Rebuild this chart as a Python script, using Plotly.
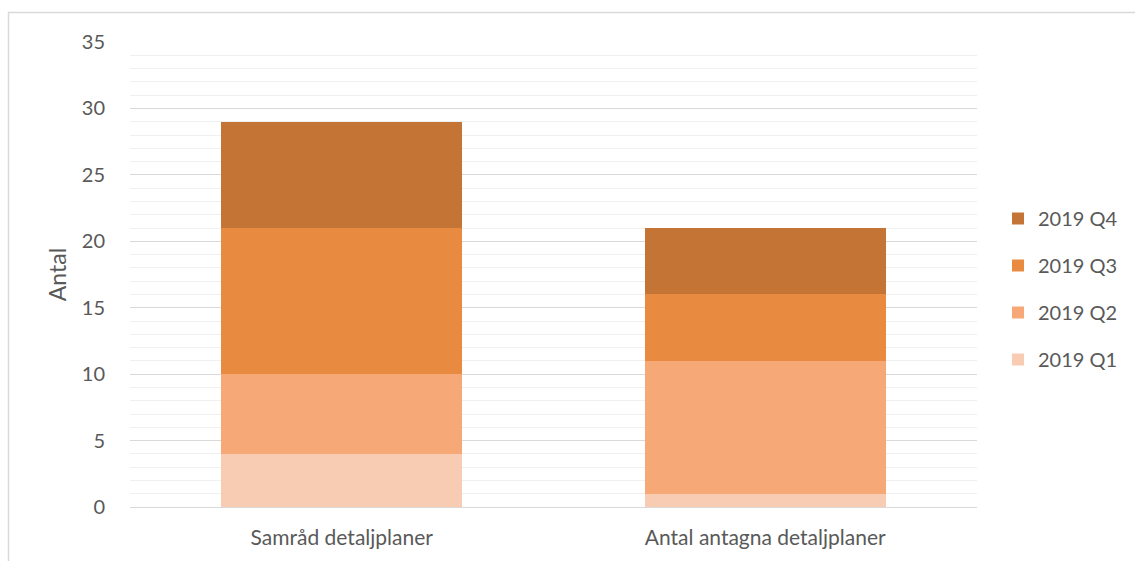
import plotly.graph_objects as go

categories = ["Samråd detaljplaner", "Antal antagna detaljplaner"]
series_names = ["2019 Q1", "2019 Q2", "2019 Q3", "2019 Q4"]
q1 = [4, 1]
q2 = [6, 10]
q3 = [11, 5]
q4 = [8, 5]
y_ticks = [0, 5, 10, 15, 20, 25, 30, 35]

colors = ["#F8CBB3", "#F6A977", "#E88B41", "#C47434"]
font_family = "Lato, 'Open Sans', sans-serif"
text_color = "#595959"

fig = go.Figure()
for i, (name, vals, col) in enumerate(zip(series_names, [q1, q2, q3, q4], colors)):
    fig.add_trace(go.Bar(
        x=categories, y=vals, name=name, marker=dict(color=col, line=dict(width=0)),
        legendgroup=name, legendrank=1000 - i,
    ))

W, H = 1135, 561
ml, mr, mt, mb = 130, 158, 42, 54
pw, ph = W - ml - mr, H - mt - mb

fig.update_layout(
    width=W, height=H,
    margin=dict(l=ml, r=mr, t=mt, b=mb, pad=0, autoexpand=False),
    barmode="stack", bargap=0.43,
    plot_bgcolor="white", paper_bgcolor="white",
    font=dict(family=font_family, color=text_color, size=21),
    showlegend=True,
    legend=dict(
        x=(998 - ml) / pw, xanchor="left",
        y=1 - (289 - mt) / ph, yanchor="middle",
        traceorder="grouped", tracegroupgap=18,
        font=dict(size=20, color=text_color),
        bgcolor="rgba(0,0,0,0)",
        itemwidth=30,
    ),
    xaxis=dict(
        showgrid=False, showline=True, linecolor="#d9d9d9", linewidth=1,
        ticks="", tickfont=dict(size=21, color=text_color),
        ticklabelstandoff=12,
    ),
    yaxis=dict(
        range=[0, 35], tickvals=y_ticks, showgrid=True, gridcolor="#d9d9d9", gridwidth=1,
        zeroline=False, showline=False, ticks="",
        tickfont=dict(size=20, color=text_color), ticklabelstandoff=24,
        minor=dict(dtick=1, showgrid=True, gridcolor="#f0f0f0", gridwidth=1),
        title=dict(text="Antal", font=dict(size=23, color=text_color), standoff=8),
    ),
    shapes=[
        dict(type="line", xref="paper", yref="paper",
             x0=(8 - ml) / pw, x1=1.3, y0=1 + (mt - 12.5) / ph, y1=1 + (mt - 12.5) / ph,
             line=dict(color="#d9d9d9", width=1.5)),
        dict(type="line", xref="paper", yref="paper",
             x0=(8.5 - ml) / pw, x1=(8.5 - ml) / pw, y0=1 + (mt - 12.5) / ph, y1=-0.3,
             line=dict(color="#d9d9d9", width=1.5)),
    ],
)

fig.write_html("out.html")
